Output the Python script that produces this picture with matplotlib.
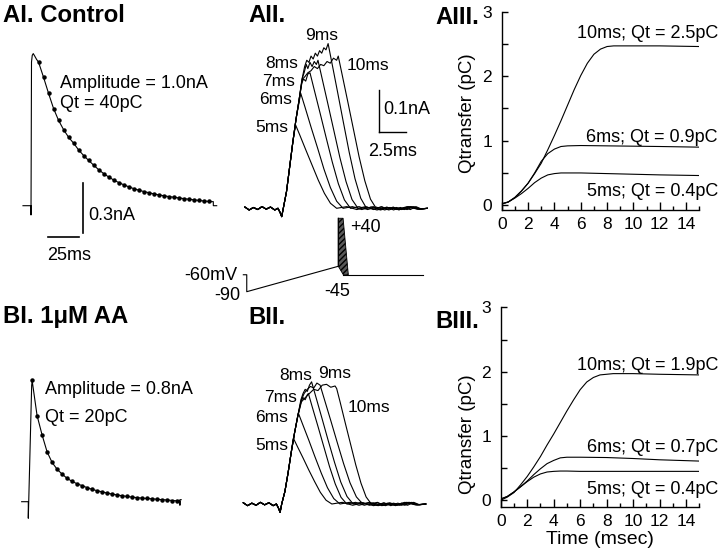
import matplotlib
matplotlib.use('Agg')
import matplotlib.pyplot as plt
from matplotlib.ticker import MultipleLocator

plt.rcParams['font.family'] = ['Liberation Sans', 'DejaVu Sans']

# ---------------- data ----------------
# AI control: whole-cell current (t in ms, I in nA)
ai_trace_t = [-6.4, 0, 0, 0.4, 1.0, 1.8, 3.0, 4.5]
ai_trace_i = [0, 0, -0.055, 0.85, 0.89, 0.90, 0.885, 0.865]
ai_dot_t = [6, 10, 14, 18, 22, 26, 30, 34, 38, 42, 46, 50, 54, 58, 62, 66, 70, 74,
            78, 82, 86, 90, 94, 98, 102, 106, 110, 114, 118, 122, 126, 130, 134, 138, 142]
ai_dot_i = [0.85, 0.76, 0.665, 0.575, 0.505, 0.45, 0.405, 0.37, 0.33, 0.297, 0.268, 0.24,
            0.213, 0.19, 0.17, 0.152, 0.137, 0.124, 0.112, 0.101, 0.092, 0.084, 0.077, 0.07,
            0.064, 0.059, 0.054, 0.05, 0.046, 0.042, 0.038, 0.035, 0.031, 0.028, 0.025]
ai_tail_t = [144.5, 145.5, 145.5, 148.2]
ai_tail_i = [0.024, 0.024, 0.0, 0.0]

# BI 1uM AA
bi_trace_t = [-5.3, 0, 0, 2.7, 3.2]
bi_trace_i = [0, 0, -0.098, 0.69, 0.714]
bi_dot_t = [3, 7, 11, 15, 19, 23, 27, 31, 35, 39, 43, 47, 51, 55, 59, 63, 67, 71, 75,
            79, 83, 87, 91, 95, 99, 103, 107, 111, 115, 119]
bi_dot_i = [0.72, 0.51, 0.395, 0.295, 0.232, 0.192, 0.163, 0.138, 0.12, 0.106, 0.095, 0.083,
            0.073, 0.065, 0.058, 0.051, 0.045, 0.04, 0.035, 0.031, 0.027, 0.024, 0.021, 0.019,
            0.017, 0.014, 0.012, 0.01, 0.007, 0.005]
bi_tail_t = [121, 121, 121, 122]
bi_tail_i = [0.004, -0.02, 0.012, 0.012]

# AII / BII gating currents for step durations (t in ms, I in nA)
step_labels = ['5ms', '6ms', '7ms', '8ms', '9ms', '10ms']
base_pre_t = [-3.6, -3.2, -2.8, -2.4, -2.0, -1.6, -1.2, -0.8, -0.5, -0.3, -0.15, 0.0]
base_pre_i = [0.003, -0.004, 0.002, -0.003, 0.004, -0.002, 0.003, -0.004, 0.0, -0.01, -0.02, 0.0]
base_post_i = [0.0, 0.004, -0.003, 0.003, -0.004, 0.002, -0.003, 0.004, -0.002, 0.0]

aii_t = [
    [0.3, 0.6, 0.9, 1.15, 1.54, 2.11, 2.69, 3.27, 3.85, 4.42, 5.0],
    [0.3, 0.6, 0.9, 1.2, 1.45, 1.63, 2.03, 2.62, 3.22, 3.81, 4.41, 5.0, 5.6],
    [0.3, 0.6, 0.9, 1.2, 1.45, 1.72, 1.9, 2.1, 2.3, 2.5, 2.88, 3.45, 4.02, 4.59, 5.16, 5.73, 6.3],
    [0.3, 0.6, 0.9, 1.2, 1.45, 1.75, 1.95, 2.15, 2.3, 2.5, 2.7, 2.9, 3.1, 3.25, 3.63, 4.19, 4.75,
     5.31, 5.88, 6.44, 7.0],
    [0.3, 0.6, 0.9, 1.2, 1.45, 1.8, 2.0, 2.2, 2.4, 2.6, 2.8, 3.0, 3.2, 3.4, 3.6, 3.8, 4.0, 4.2,
     4.56, 5.1, 5.64, 6.18, 6.72, 7.26, 7.8],
    [0.3, 0.6, 0.9, 1.2, 1.45, 1.8, 2.0, 2.3, 2.6, 2.9, 3.2, 3.5, 3.8, 4.1, 4.4, 4.7, 5.0, 5.15,
     5.51, 6.04, 6.57, 7.1, 7.64, 8.17, 8.7],
]
aii_i = [
    [0.04, 0.10, 0.16, 0.20, 0.176, 0.14, 0.104, 0.068, 0.036, 0.012, 0.0],
    [0.04, 0.10, 0.16, 0.215, 0.25, 0.276, 0.243, 0.193, 0.144, 0.094, 0.05, 0.017, 0.0],
    [0.04, 0.10, 0.16, 0.215, 0.255, 0.30, 0.31, 0.305, 0.322, 0.325, 0.286, 0.228, 0.169,
     0.111, 0.059, 0.02, 0.0],
    [0.04, 0.10, 0.16, 0.215, 0.255, 0.31, 0.325, 0.345, 0.335, 0.35, 0.34, 0.352, 0.345, 0.355,
     0.312, 0.249, 0.185, 0.121, 0.064, 0.021, 0.0],
    [0.04, 0.10, 0.16, 0.215, 0.255, 0.315, 0.34, 0.355, 0.35, 0.365, 0.358, 0.372, 0.365, 0.378,
     0.372, 0.385, 0.38, 0.395, 0.348, 0.277, 0.205, 0.134, 0.071, 0.024, 0.0],
    [0.04, 0.10, 0.16, 0.215, 0.255, 0.31, 0.315, 0.325, 0.33, 0.34, 0.335, 0.345, 0.342, 0.352,
     0.348, 0.36, 0.355, 0.365, 0.321, 0.256, 0.19, 0.124, 0.066, 0.022, 0.0],
]
bii_t = [
    [0.3, 0.6, 0.9, 1.09, 1.45, 1.99, 2.53, 3.08, 3.62, 4.16, 4.7],
    [0.3, 0.6, 0.9, 1.2, 1.56, 1.95, 2.54, 3.12, 3.71, 4.29, 4.88, 5.46],
    [0.3, 0.6, 0.9, 1.2, 1.5, 1.8, 2.0, 2.2, 2.4, 2.5, 2.86, 3.4, 3.94, 4.48, 5.02, 5.56, 6.1],
    [0.3, 0.6, 0.9, 1.2, 1.5, 1.8, 2.0, 2.2, 2.4, 2.6, 2.8, 3.19, 3.78, 4.36, 4.95, 5.53, 6.12, 6.7],
    [0.3, 0.6, 0.9, 1.2, 1.5, 1.85, 2.1, 2.4, 2.7, 3.0, 3.3, 3.6, 4.0, 4.6, 5.2, 5.8, 6.4, 7.0, 7.6],
    [0.3, 0.6, 0.9, 1.2, 1.5, 1.85, 2.2, 2.6, 3.0, 3.4, 3.8, 4.2, 4.6, 5.0, 5.15, 5.48, 5.96,
     6.45, 6.94, 7.43, 7.91, 8.4],
]
bii_i = [
    [0.03, 0.075, 0.125, 0.158, 0.139, 0.111, 0.082, 0.054, 0.028, 0.009, 0.0],
    [0.03, 0.075, 0.125, 0.17, 0.218, 0.192, 0.153, 0.113, 0.074, 0.039, 0.013, 0.0],
    [0.03, 0.075, 0.125, 0.17, 0.21, 0.245, 0.255, 0.25, 0.262, 0.265, 0.233, 0.186, 0.138,
     0.09, 0.048, 0.016, 0.0],
    [0.03, 0.075, 0.125, 0.17, 0.21, 0.25, 0.265, 0.275, 0.27, 0.285, 0.293, 0.258, 0.205,
     0.152, 0.1, 0.053, 0.018, 0.0],
    [0.03, 0.075, 0.125, 0.17, 0.21, 0.25, 0.265, 0.275, 0.282, 0.278, 0.29, 0.285, 0.251, 0.2,
     0.148, 0.097, 0.051, 0.017, 0.0],
    [0.03, 0.075, 0.125, 0.17, 0.21, 0.245, 0.255, 0.265, 0.275, 0.272, 0.285, 0.287, 0.28,
     0.283, 0.277, 0.244, 0.194, 0.144, 0.094, 0.05, 0.017, 0.0],
]

# voltage protocol (schematic, t in ms, V in mV)
proto_t = [-8.9, -8.58, -8.58, 0.0, 0.0]
proto_v = [-60, -60, -90, -45, 40]
wedge_t = [0.0, 0.0, 0.45, 0.94, 0.47]
wedge_v = [-45, 40, 40, -60, -60]
post_t = [0.47, 7.94]
post_v = [-60, -60]

# AIII / BIII integrated charge (t in ms, Q in pC)
q_time = {
    '10': [0, 0.5, 1.0, 1.5, 2.0, 2.5, 3.0, 3.5, 4.0, 4.5, 5.0, 5.5, 6.0, 6.5, 7.0, 7.5, 8.0, 8.5, 9, 10, 12, 15],
    '6': [0, 0.5, 1.0, 1.5, 2.0, 2.5, 3.0, 3.5, 4.0, 4.5, 5, 6, 8, 10, 12, 15],
    '5': [0, 0.5, 1.0, 1.5, 2.0, 2.5, 3.0, 3.5, 4.0, 4.5, 5, 6, 8, 10, 12, 15],
}
aiii_q10 = [0.02, 0.05, 0.12, 0.22, 0.34, 0.49, 0.65, 0.86, 1.08, 1.31, 1.55, 1.79, 2.01, 2.20,
            2.34, 2.42, 2.46, 2.47, 2.47, 2.47, 2.47, 2.46]
aiii_q6 = [0.02, 0.05, 0.12, 0.22, 0.34, 0.50, 0.68, 0.80, 0.87, 0.91, 0.92, 0.925, 0.92, 0.915, 0.91, 0.90]
aiii_q5 = [0.02, 0.05, 0.11, 0.18, 0.26, 0.35, 0.42, 0.47, 0.49, 0.50, 0.50, 0.50, 0.49, 0.48, 0.47, 0.46]
biii_q10 = [0.0, 0.05, 0.12, 0.24, 0.37, 0.52, 0.68, 0.86, 1.03, 1.21, 1.39, 1.56, 1.72, 1.84,
            1.91, 1.95, 1.96, 1.97, 1.97, 1.97, 1.96, 1.95]
biii_q6 = [0.02, 0.06, 0.13, 0.21, 0.30, 0.40, 0.49, 0.57, 0.62, 0.66, 0.67, 0.67, 0.665, 0.65, 0.63, 0.61]
biii_q5 = [0.02, 0.06, 0.13, 0.21, 0.29, 0.36, 0.41, 0.44, 0.45, 0.455, 0.455, 0.45, 0.45, 0.45, 0.45, 0.45]

aiii_labels = ['10ms; Qt = 2.5pC', '6ms; Qt = 0.9pC', '5ms; Qt = 0.4pC']
biii_labels = ['10ms; Qt = 1.9pC', '6ms; Qt = 0.7pC', '5ms; Qt = 0.4pC']

# ---------------- layout helpers ----------------
W, H = 720, 555
fig = plt.figure(figsize=(W / 100, H / 100), dpi=100)
TITLE = 17.2


def ptext(x, y, s, size=13, ha='left', va='center', **kw):
    fig.text(x / W, 1 - y / H, s, fontsize=size, ha=ha, va=va, **kw)


def trace_axes(box, origin, sx, sy):
    x0, y0, x1, y1 = box
    ax = fig.add_axes([x0 / W, 1 - y1 / H, (x1 - x0) / W, (y1 - y0) / H])
    ox, oy = origin
    ax.set_xlim((x0 - ox) / sx, (x1 - ox) / sx)
    ax.set_ylim((oy - y1) / sy, (oy - y0) / sy)
    ax.axis('off')
    return ax


LW = 0.8

# ---------------- AI ----------------
ax = trace_axes((10, 40, 235, 250), (31, 205.7), 1.253, 169)
ax.plot(ai_trace_t + ai_dot_t + ai_tail_t, ai_trace_i + ai_dot_i + ai_tail_i, color='k', lw=LW)
ax.plot(ai_dot_t, ai_dot_i, 'o', color='k', ms=2.2)
ax.plot([41.7, 41.7], [-0.163, 0.137], color='k', lw=1.2)   # 0.3 nA bar
ax.plot([13.3, 38.3], [-0.187, -0.187], color='k', lw=1.2)   # 25 ms bar
ptext(3, 15, 'AI. Control', size=TITLE, weight='bold')
ptext(60, 83, 'Amplitude = 1.0nA')
ptext(60, 104, 'Qt = 40pC')
ptext(88, 216, '0.3nA')
ptext(47, 256, '25ms')

# ---------------- BI ----------------
ax = trace_axes((10, 360, 235, 530), (28.3, 501.7), 1.253, 169)
ax.plot(bi_trace_t + bi_dot_t + bi_tail_t, bi_trace_i + bi_dot_i + bi_tail_i, color='k', lw=LW)
ax.plot(bi_dot_t, bi_dot_i, 'o', color='k', ms=2.2)
ptext(3, 317, 'BI. 1\u03bcM AA', size=TITLE, weight='bold')
ptext(45, 389, 'Amplitude = 0.8nA')
ptext(45, 417, 'Qt = 20pC')


# ---------------- AII / BII ----------------
def gating(ax, ts, iss):
    for tt, ii in zip(ts, iss):
        end = tt[-1]
        post_t_ = [end + k * (13.5 - end) / 9 for k in range(10)]
        ax.plot(base_pre_t + tt + post_t_, base_pre_i + ii + base_post_i, color='k', lw=LW)


LAB = 12.5
ax = trace_axes((235, 25, 440, 225), (283.3, 208.3), 10.67, 417)
gating(ax, aii_t, aii_i)
ax.plot([8.97, 8.97], [0.184, 0.284], color='k', lw=1.0)   # 0.1 nA
ax.plot([8.97, 11.47], [0.184, 0.184], color='k', lw=1.0)  # 2.5 ms
ptext(248, 15, 'AII.', size=TITLE, weight='bold')
ptext(288, 128, '5ms', ha='right', size=LAB)
ptext(292, 100, '6ms', ha='right', size=LAB)
ptext(295, 81, '7ms', ha='right', size=LAB)
ptext(298, 63, '8ms', ha='right', size=LAB)
ptext(321.5, 35, '9ms', ha='center', size=LAB)
ptext(347, 65, '10ms', size=LAB)
ptext(383, 110, '0.1nA')
ptext(368, 152, '2.5ms')

ax = trace_axes((235, 340, 440, 530), (281.7, 504), 10.67, 417)
gating(ax, bii_t, bii_i)
ptext(248, 318, 'BII.', size=TITLE, weight='bold')
ptext(288, 445, '5ms', ha='right', size=LAB)
ptext(288, 418, '6ms', ha='right', size=LAB)
ptext(297, 398, '7ms', ha='right', size=LAB)
ptext(296, 376, '8ms', ha='center', size=LAB)
ptext(335, 374, '9ms', ha='center', size=LAB)
ptext(348, 407, '10ms', size=LAB)

# ---------------- protocol ----------------
ax = trace_axes((235, 205, 440, 305), (338.3, 240.85), 10.67, 0.565)
ax.plot(proto_t, proto_v, color='k', lw=LW)
ax.fill(wedge_t, wedge_v, facecolor='0.35', edgecolor='k', hatch='//////', lw=0.6)
ax.plot(post_t, post_v, color='k', lw=LW)
ptext(237, 275, '-60mV', ha='right')
ptext(240, 295, '-90', ha='right')
ptext(337, 291, '-45', ha='center')
ptext(350, 228, '+40')


# ---------------- AIII / BIII ----------------
def charge_axes(x0, x1, ytop, yzero, ybot, qs, labels, label_y):
    ppu = (yzero - ytop) / 3.0
    ymin = -(ybot - yzero) / ppu
    ax = fig.add_axes([x0 / W, 1 - ybot / H, (x1 - x0) / W, (ybot - ytop) / H])
    ax.set_xlim(0, 15)
    ax.set_ylim(ymin, 3)
    for sp in ['top', 'right']:
        ax.spines[sp].set_visible(False)
    for sp in ['left', 'bottom']:
        ax.spines[sp].set_linewidth(1.0)
    ax.xaxis.set_major_locator(MultipleLocator(2))
    ax.xaxis.set_minor_locator(MultipleLocator(1))
    ax.yaxis.set_major_locator(MultipleLocator(1))
    ax.yaxis.set_minor_locator(MultipleLocator(0.5))
    ax.tick_params(axis='x', which='major', direction='in', length=6, width=1, labelsize=12.5, pad=5)
    ax.tick_params(axis='x', which='minor', direction='in', length=3, width=1)
    ax.tick_params(axis='y', which='both', direction='in', length=4, width=1, labelsize=12.5, pad=7)
    ax.patch.set_alpha(0)
    for key, q in zip(['10', '6', '5'], qs):
        ax.plot(q_time[key], q, color='k', lw=0.8)
    for s, ly in zip(labels, label_y):
        ptext(718, ly, s, ha='right')
    return ax


charge_axes(501.7, 699.3, 11.7, 205.2, 210, [aiii_q10, aiii_q6, aiii_q5], aiii_labels,
            [33, 137, 192])
ptext(435, 17, 'AIII.', size=TITLE, weight='bold')
ptext(468, 113, 'Qtransfer (pC)', size=13.5, ha='center', rotation=90)

charge_axes(500.7, 699.3, 307.4, 500.3, 507.3, [biii_q10, biii_q6, biii_q5], biii_labels,
            [365, 447, 490])
ptext(435, 321, 'BIII.', size=TITLE, weight='bold')
ptext(468, 434, 'Qtransfer (pC)', size=13.5, ha='center', rotation=90)
ptext(600, 540, 'Time (msec)', size=14, ha='center')

fig.savefig('out.png', dpi=100)
